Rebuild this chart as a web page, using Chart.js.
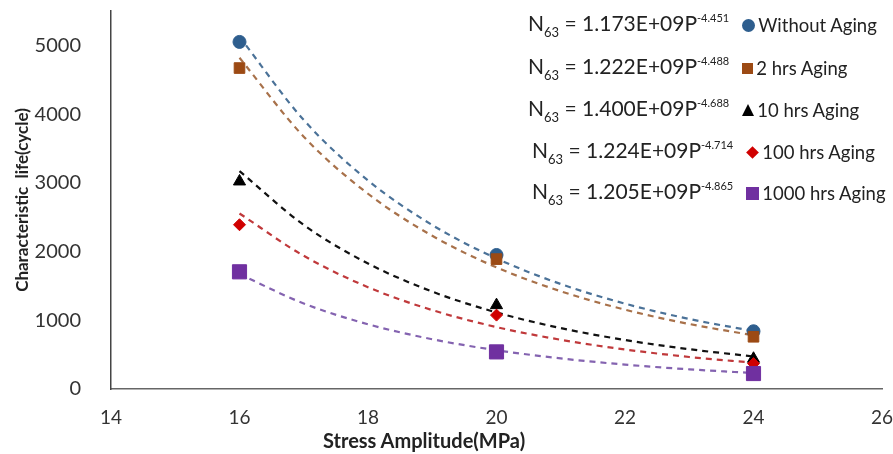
<!DOCTYPE html>
<html>
<head>
<meta charset="utf-8">
<script src="https://cdn.jsdelivr.net/npm/chart.js@4"></script>
<style>
  html, body { margin: 0; padding: 0; background: #fff; }
  #wrap { position: relative; width: 893px; height: 454px; }
  #legend { position: absolute; left: 0; top: 0; font-family: Lato, sans-serif; color: #222; }
  .row { position: absolute; height: 26px; line-height: 26px; white-space: nowrap; display: flex; align-items: center; }
  .eq { font-size: 21px; }
  .eq sub { font-size: 13px; vertical-align: -6px; }
  .eq sup { font-size: 11px; vertical-align: 9px; }
  .mk { display: inline-block; margin-left: 13px; margin-right: 3px; }
  .lbl { font-size: 18.5px; }
  #xtitle { position: absolute; left: 323px; top: 427px; height: 26px; line-height: 26px;
            font-family: Lato, sans-serif; font-weight: bold; font-size: 20px; color: #222; white-space: nowrap; }
</style>
</head>
<body>
<div id="wrap">
  <canvas id="chart" width="893" height="454"></canvas>
  <div id="legend"></div>
  <div id="xtitle">Stress Amplitude(MPa)</div>
</div>
<script>
// measured points
const stress = [16, 20, 24];
const seriesNames = ['Without Aging', '2 hrs Aging', '10 hrs Aging', '100 hrs Aging', '1000 hrs Aging'];
const withoutAging = [5050, 1950, 840];
const twoHrs = [4670, 1890, 760];
const tenHrs = [3020, 1220, 440];
const hundredHrs = [2390, 1075, 370];
const thousandHrs = [1705, 540, 225];

// dashed power trend lines
const trendStress = [16, 17, 18, 19, 20, 21, 22, 23, 24];
const trendWithout = [5126, 3914, 3035, 2386, 1899, 1528, 1242, 1019, 843];
const trendTwo = [4819, 3671, 2841, 2229, 1770, 1422, 1154, 946, 781];
const trendTen = [3171, 2387, 1826, 1417, 1114, 886, 713, 579, 474];
const trendHundred = [2554, 1938, 1481, 1148, 901, 716, 575, 466, 382];
const trendThousand = [1671, 1244, 942, 724, 564, 445, 355, 286, 232];

const coefs = ['1.173E+09', '1.222E+09', '1.400E+09', '1.224E+09', '1.205E+09'];
const exps = ['-4.451', '-4.488', '-4.688', '-4.714', '-4.865'];

const xTicks = [14, 16, 18, 20, 22, 24, 26];
const yTicks = [0, 1000, 2000, 3000, 4000, 5000];

const pointSets = [withoutAging, twoHrs, tenHrs, hundredHrs, thousandHrs];
const trendSets = [trendWithout, trendTwo, trendTen, trendHundred, trendThousand];
const markerColors = ['#2E5E8E', '#9C4A14', '#000000', '#D00000', '#7030A0'];
const lineColors = ['#4B7298', '#A8714A', '#111111', '#C0393B', '#8463B0'];
const styles = ['circle', 'rect', 'triangle', 'rectRot', 'rect'];
const radii = [6.5, 7.5, 7, 6, 10];

const toXY = (xs, ys) => xs.map((x, i) => ({ x: x, y: ys[i] }));

const datasets = [];
trendSets.forEach((t, i) => {
    datasets.push({
        label: seriesNames[i] + ' trend',
        data: toXY(trendStress, t),
        showLine: true,
        borderColor: lineColors[i],
        borderWidth: 2.2,
        borderDash: [6, 5],
        pointRadius: 0,
        cubicInterpolationMode: 'monotone',
        fill: false,
        order: 10
    });
});
pointSets.forEach((p, i) => {
    datasets.push({
        label: seriesNames[i],
        data: toXY(stress, p),
        pointStyle: styles[i],
        pointRadius: radii[i],
        backgroundColor: markerColors[i],
        borderColor: markerColors[i],
        borderWidth: 1,
        showLine: false,
        order: 5 - i
    });
});

new Chart(document.getElementById('chart'), {
    type: 'scatter',
    data: { datasets: datasets },
    options: {
        responsive: false,
        animation: false,
        layout: { padding: { top: 10, right: 0, left: 0, bottom: 0 } },
        plugins: { legend: { display: false }, tooltip: { enabled: false } },
        scales: {
            x: {
                min: 14, max: 26,
                afterBuildTicks: (s) => { s.ticks = xTicks.map(v => ({ value: v })); },
                afterFit: (s) => { s.height = 65; s.paddingRight = 11; s.paddingLeft = 0; },
                grid: { display: false },
                border: { display: true, color: '#666', width: 1.5 },
                ticks: { color: '#333', font: { family: 'Lato', size: 19 }, padding: 9, maxRotation: 0 },
                title: { display: false }
            },
            y: {
                min: 0, max: 5500,
                afterBuildTicks: (s) => { s.ticks = yTicks.map(v => ({ value: v })); },
                afterFit: (s) => { s.width = 111; s.paddingTop = 0; s.paddingBottom = 0; },
                grid: { display: false },
                border: { display: true, color: '#444', width: 1.5 },
                ticks: { color: '#333', font: { family: 'Lato', size: 20 }, padding: 22, callback: (v) => String(v) },
                title: {
                    display: true, text: 'Characteristic  life(cycle)', color: '#222',
                    font: { family: 'Lato', size: 17, weight: 'bold' }, padding: { top: 12, bottom: 0 }
                }
            }
        }
    }
});

// equation legend drawn as text over the chart
const rowTops = [25, 68, 110, 152, 193];
const rowLefts = [528, 528, 528, 532, 532];
const legend = document.getElementById('legend');
seriesNames.forEach((name, i) => {
    const row = document.createElement('div');
    row.className = 'row';
    row.style.top = (rowTops[i] - 13) + 'px';
    row.style.left = rowLefts[i] + 'px';
    let mk;
    const c = markerColors[i];
    if (i === 0) mk = `<span class="mk" style="width:13px;height:13px;border-radius:50%;background:${c}"></span>`;
    else if (i === 1) mk = `<span class="mk" style="width:11px;height:11px;background:${c}"></span>`;
    else if (i === 2) mk = `<span class="mk" style="width:0;height:0;border-left:6px solid transparent;border-right:6px solid transparent;border-bottom:12px solid ${c}"></span>`;
    else if (i === 3) mk = `<span class="mk" style="width:9px;height:9px;background:${c};transform:rotate(45deg);margin-left:15px;margin-right:5px"></span>`;
    else mk = `<span class="mk" style="width:13px;height:13px;background:${c}"></span>`;
    row.innerHTML = `<span class="eq">N<sub>63</sub> = ${coefs[i]}P<sup>${exps[i]}</sup></span>${mk}<span class="lbl">${name}</span>`;
    legend.appendChild(row);
});
</script>
</body>
</html>
